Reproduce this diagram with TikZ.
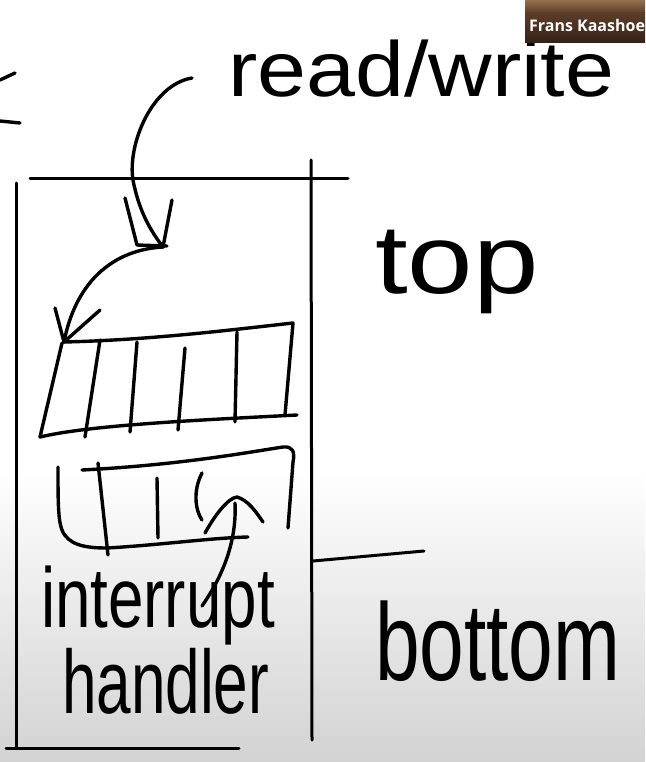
\documentclass[tikz,border=0pt]{standalone}
\usepackage{fontspec}
\setmainfont{Liberation Sans}
\newfontfamily\namefont{Open Sans}
\definecolor{camtop}{RGB}{150,112,78}
\definecolor{cammid}{RGB}{92,62,40}
\definecolor{cambot}{RGB}{52,33,22}
\begin{document}
\begin{tikzpicture}[x=1pt,y=-1pt,
  ink/.style={line width=3.4pt, line cap=round, line join=round, black},
  frameline/.style={line width=3pt, line cap=round, black},
  hand/.style={inner sep=0pt, outer sep=0pt, anchor=base west, text=black}]
\useasboundingbox (0,0) rectangle (645,762);
\fill[white] (0,0) rectangle (645,762);
\shade[top color=white, bottom color=gray!35] (0,470) rectangle (645,762);

% fragment at the left edge
\draw[ink] (0,80) -- (15,73);
\draw[ink] (0,121) -- (20,123);

% stack frame
\draw[frameline] (16,183) -- (16,748);
\draw[frameline] (6,748) -- (239,748);
\draw[frameline] (30,178) -- (348,178);
\draw[frameline] (311,160) -- (312,740);
\draw[frameline] (313,561) -- (424,551);

% labels
\node[hand] (rw) at (228,97) {\fontsize{110}{110}\selectfont\scalebox{0.80}[0.71]{read/write}};
\node[hand] (top) at (375,293) {\fontsize{98}{98}\selectfont\scalebox{1.2}[1]{top}};
\node[hand] (bot) at (375,680) {\fontsize{110}{110}\selectfont\scalebox{0.73}[1]{bottom}};
\node[hand] (ihA) at (41,627) {\fontsize{85}{85}\selectfont\scalebox{0.75}[1]{interrupt}};
\node[hand] (ihB) at (62,713) {\fontsize{90}{90}\selectfont\scalebox{0.69}[1]{handler}};

% first buffer
\coordinate (b1tl) at (64,342);
\coordinate (b1tr) at (293,323);
\coordinate (b1br) at (297,415);
\coordinate (b1bl) at (40,437);
\draw[ink] (b1tl) .. controls (150,340) and (230,330) .. (b1tr) -- (285,415);
\draw[ink] (b1bl) .. controls (90,425) and (200,420) .. (b1br);
\draw[ink] (62,343) -- (b1bl);
\draw[ink] (100,340) -- (85,437);
\draw[ink] (137,342) -- (130,432);
\draw[ink] (185,348) -- (178,430);
\draw[ink] (237,332) -- (235,422);

% second buffer
\draw[ink] (82,470) .. controls (180,465) and (250,452) .. (283,447)
  .. controls (293,446) and (295,452) .. (293,462) -- (288,528);
\draw[ink] (58,467) .. controls (58,500) and (58,520) .. (62,530)
  .. controls (68,545) and (85,548) .. (107,548)
  .. controls (160,545) and (210,538) .. (248,537);
\draw[ink] (98,463) -- (108,555);
\draw[ink] (157,478) -- (158,538);
\draw[ink] (202,473) .. controls (193,490) and (195,510) .. (202,520);

% arrow from read/write
\coordinate (rwtail) at (192,78);
\coordinate (tip1) at (163,247);
\draw[ink] (rwtail) .. controls (150,85) and (125,150) .. (134,185)
  .. controls (140,212) and (150,230) .. (tip1);
\draw[ink] (125,198) -- (137,245) -- (167,246);
\draw[ink] (172,200) -- (tip1);

% arrow into first buffer
\draw[ink] (tip1) .. controls (110,250) and (75,285) .. (b1tl);
\draw[ink] (55,308) -- (b1tl) -- (100,310);

% arrow from interrupt handler into second buffer
\coordinate (ihtail) at (202,606);
\coordinate (tip3) at (237,497);
\draw[ink] (ihtail) .. controls (220,580) and (237,545) .. (235,503);
\draw[ink] (205,533) .. controls (215,515) and (228,498) .. (tip3)
  .. controls (248,500) and (256,512) .. (263,522);

% video overlay
\shade[top color=camtop, bottom color=cammid] (525,0) rectangle (645,13);
\shade[top color=cammid, bottom color=cambot] (525,13) rectangle (645,43);
\node[anchor=base west, inner sep=0pt, text=white,
  font=\namefont\bfseries\fontsize{16}{16}\selectfont] (name) at (529,32) {Frans Kaashoe};
\end{tikzpicture}
\end{document}
